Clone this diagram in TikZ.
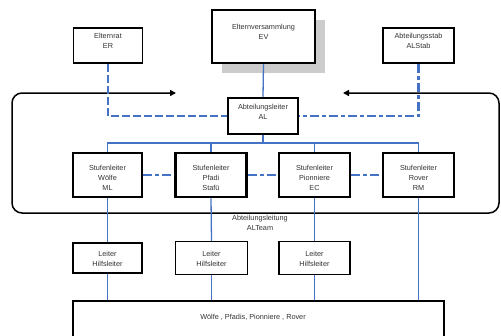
\documentclass[tikz,border=0pt]{standalone}
\usepackage{fontspec}
\setmainfont{Liberation Sans}
\usetikzlibrary{arrows.meta}
\definecolor{bl}{HTML}{4472C4}
\definecolor{tx}{HTML}{333333}
\tikzset{
  box/.style={draw=black, fill=white, line width=1.5pt, inner sep=0pt},
  thickbox/.style={box, line width=2.5pt},
  txt/.style={text=tx, align=center, font=\fontsize{7.3}{9.8}\selectfont, inner sep=0pt},
  solidblue/.style={draw=bl, line width=1.3pt},
  dashblue/.style={draw=bl, line width=2pt, dash pattern=on 8pt off 3pt},
  dotdashblue/.style={draw=bl, line width=2.3pt, dash pattern=on 9pt off 3pt on 4pt off 3pt},
  loopline/.style={draw=black, line width=1.5pt, rounded corners=10pt, {Triangle[length=6pt,width=6pt]}-{Triangle[length=6pt,width=6pt]}}
}
\begin{document}
\begin{tikzpicture}[x=1pt,y=-1pt]
\useasboundingbox (0,0) rectangle (501,335);
% shadow of EV
\fill[black!20] (222,20) rectangle (325,73);
% boxes
\node[box, minimum width=69pt, minimum height=35pt] (er) at (108,45.5) {};
\node[txt] (ert) at (108,41) {Elternrat\\ER};
\node[thickbox, minimum width=103pt, minimum height=53pt] (ev) at (263.5,36.5) {};
\node[txt] (evt) at (263.5,31.5) {Elternversammlung\\EV};
\node[box, minimum width=71pt, minimum height=35pt] (alstab) at (418.5,45.5) {};
\node[txt] (alstabt) at (418.5,41) {Abteilungsstab\\ALStab};
\node[thickbox, minimum width=70pt, minimum height=36pt] (al) at (263,116) {};
\node[txt] (alt) at (263,112) {Abteilungsleiter\\AL};
% Stufenleiter
\node[thickbox, minimum width=69pt, minimum height=44pt] (s1) at (107.5,175) {};
\node[txt] (s1t) at (107.5,178) {Stufenleiter\\Wölfe\\ML};
\node[thickbox, minimum width=71pt, minimum height=44pt] (s2) at (211,175) {};
\node[txt] (s2t) at (211,178) {Stufenleiter\\Pfadi\\Stafü};
\node[thickbox, minimum width=71pt, minimum height=44pt] (s3) at (314.5,175) {};
\node[txt] (s3t) at (314.5,178) {Stufenleiter\\Pionniere\\EC};
\node[thickbox, minimum width=71pt, minimum height=44pt] (s4) at (418.5,175) {};
\node[txt] (s4t) at (418.5,178) {Stufenleiter\\Rover\\RM};
% Leiter
\node[box, minimum width=69pt, minimum height=30pt] (l1) at (107.5,258) {};
\node[txt] (l1t) at (107.5,259) {Leiter\\Hilfsleiter};
\node[box, minimum width=72pt, minimum height=33pt] (l2) at (211.5,258) {};
\node[txt] (l2t) at (211.5,259) {Leiter\\Hilfsleiter};
\node[box, minimum width=71pt, minimum height=33pt] (l3) at (314.5,258) {};
\node[txt] (l3t) at (314.5,259) {Leiter\\Hilfsleiter};
% bottom box
\node[box, minimum width=371pt, minimum height=50pt] (wb) at (258.5,326) {};
\node[txt] (wbt) at (253,317) {Wölfe , Pfadis, Pionniere , Rover};
% loop
\coordinate (la) at (176,93);
\coordinate (ra) at (343,93);
\draw[loopline] (la) -- (12,93) -- (12,213) -- (499,213) -- (499,93) -- (ra);
\node[txt] (team) at (260,223) {Abteilungsleitung\\ALTeam};
% blue connectors
\draw[solidblue] (ev.south) -- (al.north);
\draw[dashblue] (er.south) |- (al.west);
\draw[dotdashblue] (alstab.south) |- (al.east);
\coordinate (bus) at (263,143);
\draw[solidblue] (al.south) -- (bus);
\draw[solidblue] (s1.north) |- (bus) -| (s4.north);
\draw[solidblue] (s2.north) -- (s2.north |- bus);
\draw[solidblue] (s3.north) -- (s3.north |- bus);
\draw[dotdashblue] (s1.east) -- (s2.west);
\draw[dotdashblue] (s2.east) -- (s3.west);
\draw[dotdashblue] (s3.east) -- (s4.west);
\draw[solidblue] (s1.south) -- (l1.north);
\draw[solidblue] (s2.south) -- (l2.north);
\draw[solidblue] (s3.south) -- (l3.north);
\draw[solidblue] (l1.south) -- (l1.south |- wb.north);
\draw[solidblue] (l2.south) -- (l2.south |- wb.north);
\draw[solidblue] (l3.south) -- (l3.south |- wb.north);
\draw[solidblue] (s4.south) -- (s4.south |- wb.north);
\end{tikzpicture}
\end{document}
